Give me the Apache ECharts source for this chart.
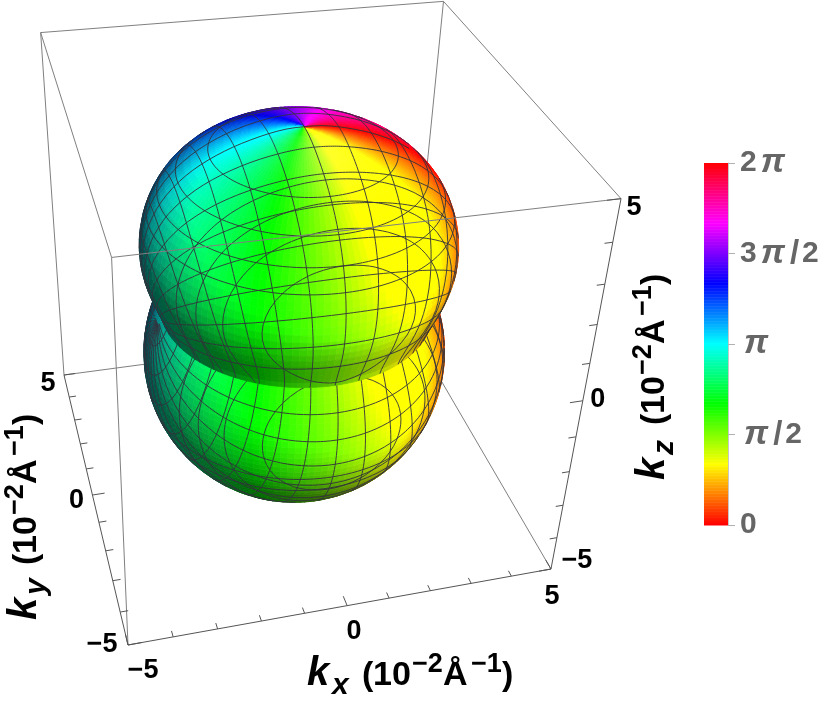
<!DOCTYPE html>
<html>
<head>
<meta charset="utf-8">
<style>html,body{margin:0;padding:0;background:#fff}#c{width:830px;height:701px}</style>
<script src="https://cdn.jsdelivr.net/npm/echarts@6/dist/echarts.min.js"></script>
</head>
<body>
<div id="c"></div>
<script>
// ---- values ----
const axisMin = -5, axisMax = 5;
const boxTicks = [-5, -4, -3, -2, -1, 0, 1, 2, 3, 4, 5];
const boxTickLabels = [-5, 0, 5];
// radii of each lobe at polar angles 0, 5, 10 ... degrees measured from its own pole
const upperRadius = [4.66, 4.66, 4.64, 4.62, 4.61, 4.6, 4.59, 4.57, 4.53, 4.47, 4.38, 4.27, 4.14, 3.99, 3.82, 3.63, 3.44, 3.28, 3.17];
const lowerRadius = [3.58, 3.58, 3.58, 3.58, 3.58, 3.58, 3.58, 3.58, 3.58, 3.58, 3.58, 3.58, 3.58, 3.58, 3.58, 3.58, 3.58, 3.58, 3.58, 3.58, 3.58, 3.58, 3.58, 3.58, 3.58];
const upperCentreZ = -0.1;
const lowerCentreZ = -1.45;
const meshAngleStep = 10;
const zMeshUpper = [2.5, 3, 3.5, 4];
const zMeshLower = [-2.5, -3];
const yMeshUpper = [-3.2, -2.7, -2.2, -1.7];
const yMeshLower = [-3.2, -2.7, -2.2, -1.7];
const colorbarTickLabels = ['0', 'π/2', 'π', '3π/2', '2π'];

// camera: homogeneous map of the unit cube onto the page
const camOrigin = [128, 645];
const camX = [464.3, -33.3], camY = [-48, -176.25], camZ = [-36.5, -433.9];
const camW = [0.075, 0.25, -0.18];

function project(x, y, z) {
  const u = (x - axisMin) / (axisMax - axisMin), v = (y - axisMin) / (axisMax - axisMin), w = (z - axisMin) / (axisMax - axisMin);
  const d = 1 + camW[0] * u + camW[1] * v + camW[2] * w;
  return [(camOrigin[0] + camX[0] * u + camY[0] * v + camZ[0] * w) / d,
          (camOrigin[1] + camX[1] * u + camY[1] * v + camZ[1] * w) / d];
}

function profileAt(table, deg) {
  const s = deg / 5, i = Math.min(Math.floor(s), table.length - 2), t = s - i;
  const p1 = table[i], p2 = table[i + 1], p0 = table[Math.max(i - 1, 0)], p3 = table[Math.min(i + 2, table.length - 1)];
  return 0.5 * (2 * p1 + (p2 - p0) * t + (2 * p0 - 5 * p1 + 4 * p2 - p3) * t * t + (3 * p1 - p0 - 3 * p2 + p3) * t * t * t);
}

function surfacePoint(table, sign, centreZ, thetaDeg, phiDeg) {
  const r = profileAt(table, thetaDeg), t = thetaDeg * Math.PI / 180, p = phiDeg * Math.PI / 180;
  return [r * Math.sin(t) * Math.cos(p), r * Math.sin(t) * Math.sin(p), centreZ + sign * r * Math.cos(t)];
}

function hueToRgb(h) {
  h = ((h % 1) + 1) % 1;
  const k = h * 6, f = k - Math.floor(k);
  switch (Math.floor(k)) {
    case 0: return [1, f, 0];
    case 1: return [1 - f, 1, 0];
    case 2: return [0, 1, f];
    case 3: return [0, 1 - f, 1];
    case 4: return [f, 0, 1];
    default: return [1, 0, 1 - f];
  }
}
const rgbCss = c => 'rgb(' + c.map(v => Math.round(255 * Math.max(0, Math.min(1, v)))).join(',') + ')';
const unit = l => { const m = Math.hypot(...l); return l.map(v => v / m); };
const dot = (a, b) => a[0] * b[0] + a[1] * b[1] + a[2] * b[2];

const lightDir = unit([0.12, -0.55, 0.83]);
const fillDir = unit([-0.1, -0.9, 0.1]);
const sideDir = unit([1, -0.1, 0.1]);
const glossDir = unit([0, -0.25, 0.97]);

function quadColor(a, b, c, d, centreZ, sign) {
  const u = [c[0] - a[0], c[1] - a[1], c[2] - a[2]], v = [d[0] - b[0], d[1] - b[1], d[2] - b[2]];
  let n = unit([u[1] * v[2] - u[2] * v[1], u[2] * v[0] - u[0] * v[2], u[0] * v[1] - u[1] * v[0]]);
  const mid = [(a[0] + b[0] + c[0] + d[0]) / 4, (a[1] + b[1] + c[1] + d[1]) / 4, (a[2] + b[2] + c[2] + d[2]) / 4];
  if (dot(n, [mid[0], mid[1], mid[2] - centreZ]) < 0) n = n.map(q => -q);
  const s = 0.28 + 0.99 * Math.max(0, dot(n, lightDir)) + 0.2 * Math.max(0, dot(n, fillDir)) + 0.25 * Math.max(0, dot(n, sideDir));
  const gloss = sign > 0 && mid[2] > 3.4 ? 0.16 * Math.pow(Math.max(0, dot(n, glossDir)), 40) : 0;
  const hue = Math.atan2(-mid[1], mid[0]) / (2 * Math.PI);
  const rgb = hueToRgb(hue).map(q => Math.min(1, q * s)).map(q => q + (1 - q) * gloss);
  return rgbCss(rgb);
}

function levelSegments(corners, vals, level, out) {
  const pts = [];
  for (let i = 0; i < 4; i++) {
    const j = (i + 1) % 4, a = vals[i] - level, b = vals[j] - level;
    if ((a >= 0) !== (b >= 0)) {
      const t = a / (a - b), p = corners[i], q = corners[j];
      pts.push([p[0] + (q[0] - p[0]) * t, p[1] + (q[1] - p[1]) * t, p[2] + (q[2] - p[2]) * t]);
    }
  }
  if (pts.length >= 2) out.push([...pts[0], ...pts[1]]);
  if (pts.length === 4) out.push([...pts[2], ...pts[3]]);
}

function buildLobe(table, sign, centreZ, zLevels, yLevels) {
  const quads = [], segs = [];
  const dT = 2.5, dP = 2.5, tMax = (table.length - 1) * 5;
  const chiLevels = [], alphaLevels = [];
  for (let a = meshAngleStep; a < 180; a += meshAngleStep) { chiLevels.push(a); alphaLevels.push(sign * a); }
  for (let t = 0; t < tMax; t += dT) {
    for (let p = 0; p < 360; p += dP) {
      const th1 = t + dT;
      const A = surfacePoint(table, sign, centreZ, t, p), B = surfacePoint(table, sign, centreZ, th1, p);
      const C = surfacePoint(table, sign, centreZ, th1, p + dP), D = surfacePoint(table, sign, centreZ, t, p + dP);
      const pa = project(...A), pb = project(...B), pc = project(...C), pd = project(...D);
      const area = (pc[0] - pa[0]) * (pd[1] - pb[1]) - (pc[1] - pa[1]) * (pd[0] - pb[0]);
      const front = sign > 0 ? area < 0 : area > 0;
      if (!front) continue;
      quads.push({ pts: [A, B, C, D], color: quadColor(A, B, C, D, centreZ, sign) });
      const cs = [A, B, C, D];
      const r = cs.map(q => Math.hypot(...q));
      const chi = cs.map((q, i) => Math.acos(q[0] / r[i]) * 180 / Math.PI);
      const alpha = cs.map(q => Math.atan2(q[2], -q[1]) * 180 / Math.PI);
      const zs = cs.map(q => q[2]), ys = cs.map(q => q[1]);
      chiLevels.forEach(l => levelSegments(cs, chi, l, segs));
      if (Math.max(...alpha) - Math.min(...alpha) < 90) alphaLevels.forEach(l => levelSegments(cs, alpha, l, segs));
      zLevels.forEach(l => levelSegments(cs, zs, l, segs));
      yLevels.forEach(l => levelSegments(cs, ys, l, segs));
    }
  }
  return { quads, segs };
}

const upper = buildLobe(upperRadius, 1, upperCentreZ, zMeshUpper, yMeshUpper);
const lower = buildLobe(lowerRadius, -1, lowerCentreZ, zMeshLower, yMeshLower);

// box
const edgesBack = [
  [axisMin, axisMax, axisMin, axisMax, axisMax, axisMin],
  [axisMax, axisMax, axisMin, axisMax, axisMin, axisMin],
  [axisMax, axisMax, axisMin, axisMax, axisMax, axisMax],
  [axisMin, axisMax, axisMax, axisMax, axisMax, axisMax],
  [axisMax, axisMax, axisMax, axisMax, axisMin, axisMax],
  [axisMin, axisMax, axisMin, axisMin, axisMax, axisMax],
  [axisMin, axisMin, axisMin, axisMin, axisMin, axisMax],
  [axisMin, axisMin, axisMax, axisMin, axisMax, axisMax]
];
const edgesFront = [[axisMin, axisMin, axisMax, axisMax, axisMin, axisMax]];
const axisEdges = [
  [axisMin, axisMin, axisMin, axisMax, axisMin, axisMin],
  [axisMin, axisMin, axisMin, axisMin, axisMax, axisMin],
  [axisMax, axisMin, axisMin, axisMax, axisMin, axisMax]
];
const tickSegs = [];
boxTicks.forEach(t => {
  const major = boxTickLabels.indexOf(t) >= 0, len = major ? 0.3 : 0.18;
  tickSegs.push([t, axisMin, axisMin, t, axisMin + len, axisMin]);
  tickSegs.push([axisMin, t, axisMin, axisMin + len, t, axisMin]);
  tickSegs.push([axisMax, axisMin, t, axisMax - len, axisMin, t]);
});
axisEdges.forEach(e => tickSegs.push(e));

function lineSeries(data, color, width, z) {
  return {
    type: 'custom', coordinateSystem: 'cartesian2d', xAxisIndex: 0, yAxisIndex: 0, data, z, silent: true, clip: false,
    animation: false, progressive: 0,
    encode: { x: 0, y: 1 },
    renderItem(params, api) {
      const d = data[params.dataIndex];
      const a = api.coord(project(d[0], d[1], d[2])), b = api.coord(project(d[3], d[4], d[5]));
      return { type: 'line', silent: true, shape: { x1: a[0], y1: a[1], x2: b[0], y2: b[1] }, style: { stroke: color, lineWidth: width, fill: null } };
    }
  };
}
function surfaceSeries(lobe, z) {
  return {
    type: 'custom', coordinateSystem: 'cartesian2d', xAxisIndex: 0, yAxisIndex: 0, data: lobe.quads.map((q, i) => [i]), z, silent: true, clip: false,
    animation: false, progressive: 0,
    encode: { x: 0, y: 0 },
    renderItem(params, api) {
      const q = lobe.quads[params.dataIndex];
      return { type: 'polygon', silent: true, shape: { points: q.pts.map(p => api.coord(project(p[0], p[1], p[2]))) }, style: { fill: q.color, stroke: q.color, lineWidth: 0.7 } };
    }
  };
}
const textLabelItems = [
  { t: -5, axis: 'x', dx: 15, dy: 26 }, { t: 0, axis: 'x', dx: 7, dy: 26 }, { t: 5, axis: 'x', dx: 1, dy: 28 },
  { t: -5, axis: 'y', dx: -26, dy: 0 }, { t: 0, axis: 'y', dx: -16, dy: 6 }, { t: 5, axis: 'y', dx: -16, dy: 9 },
  { t: -5, axis: 'z', dx: 26, dy: -8 }, { t: 0, axis: 'z', dx: 15, dy: -1 }, { t: 5, axis: 'z', dx: 13, dy: 9 }
];
const tickTextSeries = {
  type: 'custom', coordinateSystem: 'cartesian2d', xAxisIndex: 0, yAxisIndex: 0, data: textLabelItems.map((q, i) => [i]), z: 20, silent: true, clip: false, animation: false,
  encode: { x: 0, y: 0 },
  renderItem(params, api) {
    const q = textLabelItems[params.dataIndex];
    const p = q.axis === 'x' ? project(q.t, axisMin, axisMin) : q.axis === 'y' ? project(axisMin, q.t, axisMin) : project(axisMax, axisMin, q.t);
    const c = api.coord(p);
    const s = String(q.t).replace('-', '−');
    return { type: 'text', silent: true, style: { x: c[0] + q.dx, y: c[1] + q.dy, text: s, fill: '#000', font: 'bold 27px "Liberation Sans"', align: 'center', verticalAlign: 'middle' } };
  }
};

// colour bar
const barSteps = []; for (let i = 0; i < 240; i++) barSteps.push(i);
const colorbarSeries = {
  type: 'custom', coordinateSystem: 'cartesian2d', xAxisIndex: 1, yAxisIndex: 1, data: barSteps.map(i => [0, (i + 0.5) / 240 * 2 * Math.PI]), z: 5, silent: true, animation: false, clip: false,
  encode: { x: 0, y: 1 },
  renderItem(params, api) {
    const i = params.dataIndex;
    const a = api.coord([0, i / 240 * 2 * Math.PI]), b = api.coord([1, (i + 1) / 240 * 2 * Math.PI]);
    const col = rgbCss(hueToRgb(i / 240));
    return { type: 'rect', silent: true, shape: { x: a[0], y: b[1], width: b[0] - a[0], height: a[1] - b[1] + 0.5 }, style: { fill: col } };
  }
};

// axis titles, built from pieces along a baseline
const titleFont = '"Liberation Sans"';
const titlePieces = sub => [
  { s: 'k', size: 40, style: 'italic bold', dx: 0, base: 0 },
  { s: sub, size: 30, style: 'italic bold', dx: 25, base: 8 },
  { s: '(', size: 34, style: 'bold', dx: 55, base: 0 },
  { s: '10', size: 34, style: 'bold', dx: 66, base: 0 },
  { s: '−2', size: 27, style: 'bold', dx: 105, base: -14 },
  { s: 'Å', size: 34, style: 'bold', dx: 136, base: 0 },
  { s: '−1', size: 27, style: 'bold', dx: 164, base: -14 },
  { s: ')', size: 34, style: 'bold', dx: 195, base: 0 }
];
function titleGroup(sub, x, y, rotation) {
  return {
    type: 'group', x, y, rotation, silent: true,
    children: titlePieces(sub).map(p => ({
      type: 'text', x: p.dx, y: p.base - 0.35 * p.size, silent: true,
      style: { text: p.s, font: p.style + ' ' + p.size + 'px ' + titleFont, fill: '#000', align: 'left', verticalAlign: 'middle' }
    }))
  };
}

const richBar = {
  b: { fontSize: 30, fontWeight: 'bold', fontFamily: 'Liberation Sans', color: '#666' },
  i: { fontSize: 34, fontWeight: 'bold', fontStyle: 'italic', fontFamily: 'Liberation Sans', color: '#666', padding: [0, 4, 0, 4] },
  s: { fontSize: 33, fontWeight: 'bold', fontFamily: 'Liberation Sans', color: '#666', padding: [0, 3, 0, 1] }
};
function richLabel(s) {
  return s.split('').map(ch => ch === 'π' ? '{i|π}' : ch === '/' ? '{s|/}' : '{b|' + ch + '}').join('');
}
const chart = echarts.init(document.getElementById('c'), null, { renderer: 'canvas', width: 830, height: 701 });
chart.setOption({
  animation: false,
  backgroundColor: '#fff',
  grid: [
    { left: 0, top: 0, width: 830, height: 701, containLabel: false, z: 0 },
    { left: 704, top: 163, width: 24, height: 362, containLabel: false }
  ],
  xAxis: [
    { type: 'value', min: 0, max: 830, show: false, gridIndex: 0 },
    { type: 'value', min: 0, max: 1, show: false, gridIndex: 1 }
  ],
  yAxis: [
    { type: 'value', min: 0, max: 701, inverse: true, show: false, gridIndex: 0 },
    {
      type: 'value', min: 0, max: 2 * Math.PI, interval: Math.PI / 2, gridIndex: 1, position: 'right', offset: 0,
      axisLine: { show: true, onZero: false, lineStyle: { color: '#c8c8c8', width: 1 } },
      axisTick: { show: true, inside: false, length: 7, lineStyle: { color: '#b0b0b0', width: 1 } },
      splitLine: { show: false },
      axisLabel: {
        show: true, margin: 12, align: 'left', showMinLabel: true, showMaxLabel: true, hideOverlap: false, color: '#666',
        formatter: v => richLabel(colorbarTickLabels[Math.round(v / (Math.PI / 2))]),
        rich: richBar
      }
    }
  ],
  graphic: [
    titleGroup('x', 307, 688, 0),
    titleGroup('y', 39, 620, Math.PI / 2),
    titleGroup('z', 667, 480, Math.PI / 2)
  ],
  series: [
    lineSeries(edgesBack, '#808080', 1, 2),
    surfaceSeries(lower, 3),
    lineSeries(lower.segs, 'rgba(50,50,60,0.9)', 1, 4),
    surfaceSeries(upper, 5),
    lineSeries(upper.segs, 'rgba(50,50,60,0.9)', 1, 6),
    lineSeries(edgesFront, '#808080', 1, 7),
    lineSeries(tickSegs, '#555', 1, 8),
    tickTextSeries,
    colorbarSeries
  ]
});
</script>
</body>
</html>
